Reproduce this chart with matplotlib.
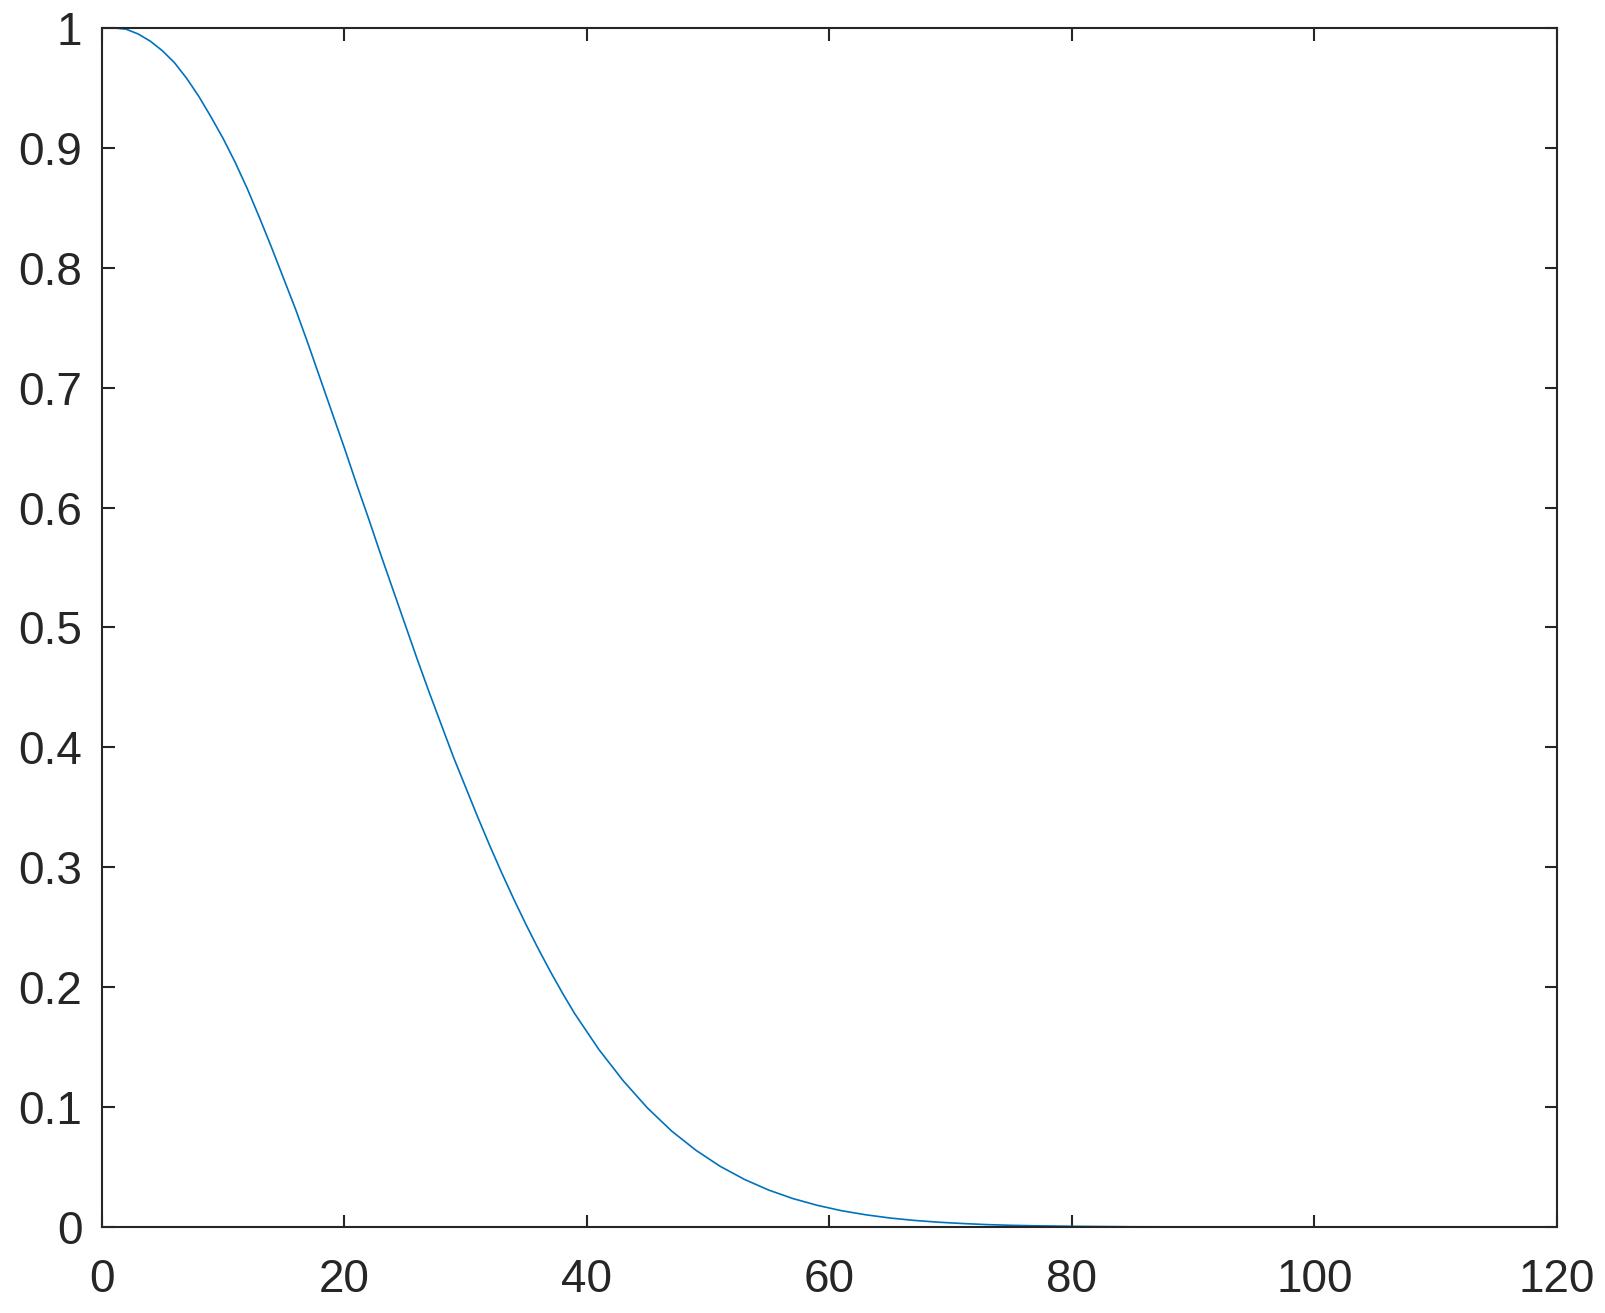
import matplotlib
matplotlib.use("Agg")
import matplotlib.pyplot as plt

x_vals = [1, 2, 3, 4, 5, 6, 7, 8, 9, 10, 11, 12, 13, 14, 15, 16, 17, 18, 19, 20,
          21, 22, 23, 24, 25, 26, 27, 28, 29, 30, 31, 32, 33, 34, 35, 36, 37, 38, 39, 40,
          41, 43, 45, 47, 49, 51, 53, 55, 57, 59, 61, 63, 65, 67, 69, 71, 73, 75, 77,
          80, 85, 90, 95, 100]
y_vals = [1.000, 0.999, 0.995, 0.989, 0.981, 0.971, 0.958, 0.943, 0.926, 0.908,
          0.888, 0.866, 0.842, 0.817, 0.791, 0.765, 0.737, 0.708, 0.679, 0.650,
          0.620, 0.591, 0.561, 0.532, 0.503, 0.474, 0.446, 0.419, 0.392, 0.367,
          0.342, 0.318, 0.295, 0.273, 0.252, 0.232, 0.213, 0.195, 0.178, 0.163,
          0.148, 0.122, 0.0993, 0.080, 0.064, 0.0506, 0.0397, 0.0308, 0.0237, 0.0181,
          0.0136, 0.0102, 0.0075, 0.0055, 0.0040, 0.0029, 0.0020, 0.0014, 0.0010,
          0.0006, 0.0002, 0.0001, 0.0, 0.0]
x_ticks = [0, 20, 40, 60, 80, 100, 120]
y_ticks = [0, 0.1, 0.2, 0.3, 0.4, 0.5, 0.6, 0.7, 0.8, 0.9, 1]
y_tick_labels = ["0", "0.1", "0.2", "0.3", "0.4", "0.5", "0.6", "0.7", "0.8", "0.9", "1"]

plt.rcParams['font.family'] = ['Liberation Sans', 'DejaVu Sans']

fig = plt.figure(figsize=(16.05, 13.13), dpi=100)
ax = fig.add_axes([0.0634, 0.0655, 0.9066, 0.9132])
ax.plot(x_vals, y_vals, color='#0072BD', linewidth=1.2)
ax.set_xlim(0, 120)
ax.set_ylim(0, 1)
ax.set_xticks(x_ticks)
ax.set_yticks(y_ticks)
ax.set_yticklabels(y_tick_labels)
ax.tick_params(direction='in', length=9, width=1.5, top=True, right=True,
               labelsize=33, colors='#262626', pad=14)
ax.tick_params(axis='x', pad=22)
for s in ax.spines.values():
    s.set_linewidth(1.5)
    s.set_color('#262626')
fig.savefig('out.png', dpi=100)
